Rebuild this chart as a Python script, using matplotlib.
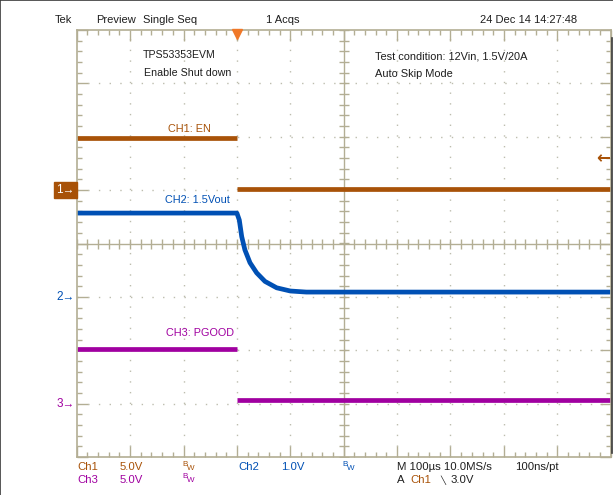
#!/usr/bin/env python3
"""Scope capture recreation: TPS53353EVM enable shut-down (EN, 1.5Vout, PGOOD)."""
import matplotlib
matplotlib.use("Agg")
import matplotlib.pyplot as plt
import matplotlib.transforms as mtransforms
import numpy as np

plt.rcParams["font.family"] = ["Liberation Sans", "DejaVu Sans"]

W_PX, H_PX = 613, 495

# scope settings (time in us, 100 us/div, trigger 3 div from the left)
TIME_LIMITS = (-300, 700)
CH1_SCALE, CH1_POS = 5.0, 1.0     # V/div, ground marker position in divisions
CH2_SCALE, CH2_POS = 1.0, -1.0
CH3_SCALE, CH3_POS = 5.0, -3.0
TRIG_LEVEL = 3.0                  # V on Ch1

# CH1: EN (V), two flat pieces either side of the trigger
ch1_t_before = [-300, 0]
ch1_v_before = [4.9, 4.9]
ch1_t_after = [0, 700]
ch1_v_after = [0.1, 0.1]

# CH2: 1.5Vout (V), discharge
ch2_t = [-300, 0, 4.5, 9, 15, 24.5, 37, 52.6, 74.5, 100, 130, 700]
ch2_v = [1.57, 1.57, 1.44, 1.13, 0.88, 0.64, 0.45, 0.29, 0.17, 0.11, 0.09, 0.09]

# CH3: PGOOD (V)
ch3_t_before = [-300, 0]
ch3_v_before = [5.15, 5.15]
ch3_t_after = [0, 700]
ch3_v_after = [0.3, 0.3]

C1 = "#A85208"
C2 = "#0050B4"
C3 = "#A000A0"
GRAT = "#B3AE94"
DOT = "#BDBDAE"
TXT = "#1E1E1E"


def to_div(volts, scale, pos):
    return pos + np.asarray(volts, dtype=float) / scale


fig = plt.figure(figsize=(W_PX / 100, H_PX / 100), dpi=100)
fig.patch.set_facecolor("white")

left, right, top, bottom = 76.7, 610.7, 30.0, 457.0
ax = fig.add_axes([left / W_PX, 1 - bottom / H_PX,
                   (right - left) / W_PX, (bottom - top) / H_PX])
ax.set_xlim(*TIME_LIMITS)
ax.set_ylim(-4, 4)

# graticule: border ticks
ax.set_xticks(np.arange(-300, 701, 100))
ax.set_yticks(np.arange(-4, 4.1, 1))
ax.set_xticks(np.arange(-300, 701, 20), minor=True)
ax.set_yticks(np.arange(-4, 4.1, 0.2), minor=True)
ax.tick_params(which="both", direction="in", top=True, right=True,
               labelbottom=False, labelleft=False, color=GRAT, width=1.0)
ax.tick_params(which="major", length=8)
ax.tick_params(which="minor", length=3.6)
for sp in ax.spines.values():
    sp.set_color(GRAT)
    sp.set_linewidth(1.2)

# dotted division lines
for xv in np.arange(-200, 700, 100):
    if xv != 200:
        ax.axvline(xv, color=DOT, lw=1.0, dashes=(1.0, 6.7), zorder=0.5)
for yv in np.arange(-3, 4, 1):
    if yv != 0:
        ax.axhline(yv, color=DOT, lw=1.0, dashes=(1.0, 6.7), zorder=0.5)

# centre cross with tick marks
ax.axhline(0, color=GRAT, lw=1.0, zorder=0.6)
ax.axvline(200, color=GRAT, lw=1.0, zorder=0.6)
cx = np.arange(-300, 701, 20)
cy = np.arange(-4, 4.01, 0.2)
ax.plot(cx, np.zeros_like(cx), ls="none", marker="|", ms=6.5, mew=1.0,
        color=GRAT, zorder=0.6)
ax.plot(np.full_like(cy, 200), cy, ls="none", marker="_", ms=6.5, mew=1.0,
        color=GRAT, zorder=0.6)

# traces
lw = 3.4
ax.plot(ch1_t_before, to_div(ch1_v_before, CH1_SCALE, CH1_POS), color=C1, lw=lw,
        solid_capstyle="butt")
ax.plot(ch1_t_after, to_div(ch1_v_after, CH1_SCALE, CH1_POS), color=C1, lw=lw,
        solid_capstyle="butt")
ax.plot(ch2_t, to_div(ch2_v, CH2_SCALE, CH2_POS), color=C2, lw=lw,
        solid_capstyle="butt", solid_joinstyle="round")
ax.plot(ch3_t_before, to_div(ch3_v_before, CH3_SCALE, CH3_POS), color=C3, lw=lw,
        solid_capstyle="butt")
ax.plot(ch3_t_after, to_div(ch3_v_after, CH3_SCALE, CH3_POS), color=C3, lw=lw,
        solid_capstyle="butt")

# trigger position marker (top) and trigger level arrow (right)
ax.plot([0], [3.93], marker="v", ms=7, color="#F07828", clip_on=False, zorder=5)
trig_y = CH1_POS + TRIG_LEVEL / CH1_SCALE
yblend = mtransforms.blended_transform_factory(ax.transAxes, ax.transData)
ax.text(0.999, trig_y, "\u2190", transform=yblend, ha="right", va="center",
        color=C1, fontsize=12, fontweight="bold", family="DejaVu Sans")

# channel ground markers on the left
ax.text(-0.004, CH1_POS, "1\u2192", transform=yblend, ha="right", va="center",
        color="white", fontsize=8.5,
        bbox=dict(boxstyle="square,pad=0.2", fc=C1, ec=C1))
ax.text(-0.004, CH2_POS, "2\u2192", transform=yblend, ha="right", va="center",
        color=C2, fontsize=8.5)
ax.text(-0.004, CH3_POS, "3\u2192", transform=yblend, ha="right", va="center",
        color=C3, fontsize=8.5)


def ptext(x, y, s, color=TXT, size=7.8, ha="left"):
    fig.text(x / W_PX, 1 - y / H_PX, s, color=color, fontsize=size,
             ha=ha, va="center")


# header
ptext(55, 20, "Tek", size=8)
ptext(96, 20, "Preview", size=8)
ptext(143, 20, "Single Seq", size=8)
ptext(266, 20, "1 Acqs", size=8)
ptext(480, 20, "24 Dec 14 14:27:48", size=8)

# annotations inside the graticule
ptext(143, 55, "TPS53353EVM", size=7.6)
ptext(144, 73, "Enable Shut down", size=7.7)
ptext(375, 56, "Test condition: 12Vin, 1.5V/20A", size=7.9)
ptext(375, 74, "Auto Skip Mode", size=7.9)
ptext(211, 129, "CH1: EN", color=C1, ha="right")
ptext(230, 200, "CH2: 1.5Vout", color=C2, ha="right")
ptext(234, 333, "CH3: PGOOD", color=C3, ha="right")

# footer
FS = 8.2
ptext(77, 467, "Ch1", color=C1, size=FS)
ptext(120, 467, "5.0V", color=C1, size=FS)
ptext(182, 464, "B", color=C1, size=5.8)
ptext(187, 468, "W", color=C1, size=5.8)
ptext(238, 467, "Ch2", color=C2, size=FS)
ptext(281, 467, "1.0V", color=C2, size=FS)
ptext(342, 464, "B", color=C2, size=5.8)
ptext(347, 468, "W", color=C2, size=5.8)
ptext(397, 467, "M 100\u00b5s 10.0MS/s", size=FS)
ptext(515, 467, "100ns/pt", size=FS)
ptext(77, 480, "Ch3", color=C3, size=FS)
ptext(120, 480, "5.0V", color=C3, size=FS)
ptext(182, 477, "B", color=C3, size=5.8)
ptext(187, 481, "W", color=C3, size=5.8)
ptext(397, 480, "A", size=FS)
ptext(410, 480, "Ch1", color=C1, size=FS)
ptext(440, 480, "\u2572", size=6)
ptext(451, 480, "3.0V", size=FS)

# screenshot frame
frame_kw = dict(color="#3A3A3A", lw=1.2, transform=fig.transFigure)
fig.add_artist(plt.Line2D([0.0008, 0.0008], [0, 1], **frame_kw))
fig.add_artist(plt.Line2D([0, 1], [0.999, 0.999], **frame_kw))
fig.add_artist(plt.Line2D([611.8 / W_PX, 611.8 / W_PX],
                          [1 - 453 / H_PX, 1 - 38 / H_PX], **frame_kw))

fig.savefig("out.png", dpi=100, facecolor="white")
